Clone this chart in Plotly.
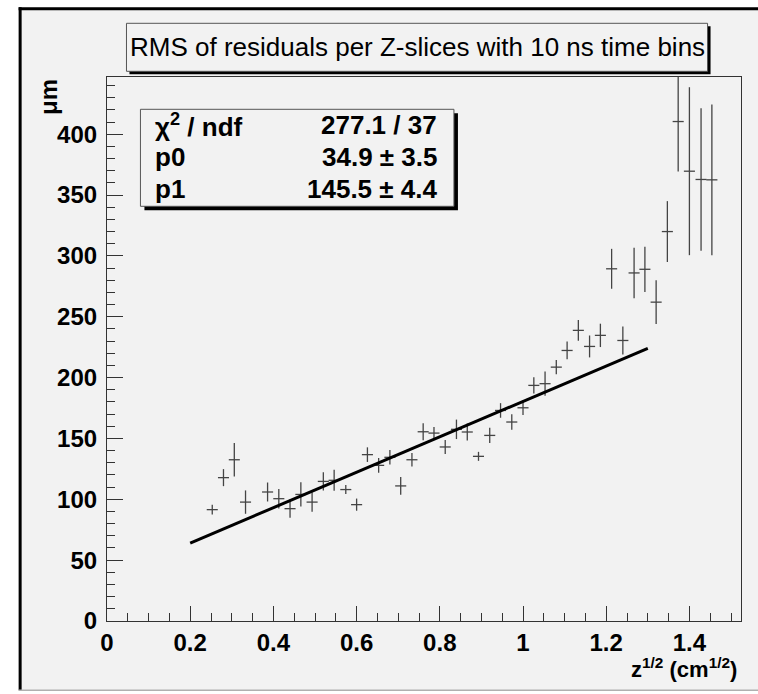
import plotly.graph_objects as go

# ---------------- data ----------------
z_sqrt = [0.253, 0.280, 0.306, 0.333, 0.386, 0.413, 0.440, 0.466, 0.493, 0.520,
          0.546, 0.574, 0.600, 0.626, 0.653, 0.680, 0.706, 0.733, 0.760, 0.786,
          0.813, 0.840, 0.866, 0.893, 0.920, 0.946, 0.973, 1.000, 1.026, 1.053,
          1.080, 1.106, 1.133, 1.160, 1.186, 1.213, 1.240, 1.267, 1.293, 1.320,
          1.347, 1.373, 1.400, 1.428, 1.454]
rms_um = [91.5, 117.8, 132.5, 97.7, 106.0, 100.5, 92.3, 104.0, 97.7, 114.7,
          115.6, 108.0, 95.6, 136.7, 127.9, 134.5, 111.0, 132.5, 155.5, 154.4,
          143.0, 157.5, 155.3, 135.3, 152.5, 173.0, 163.5, 175.2, 193.6, 195.0,
          208.6, 222.3, 238.8, 225.6, 234.7, 289.4, 230.5, 286.0, 289.0, 262.0,
          320.0, 410.4, 369.6, 362.8, 362.5]
rms_err = [4.0, 7.0, 13.7, 9.6, 7.8, 8.0, 7.5, 10.0, 8.0, 7.5,
           8.6, 3.7, 5.0, 6.0, 6.0, 6.0, 7.3, 5.5, 7.0, 5.0,
           5.7, 8.0, 7.0, 3.7, 6.3, 6.0, 6.4, 6.0, 6.6, 10.0,
           5.8, 7.3, 8.6, 9.0, 9.6, 16.4, 11.5, 20.7, 18.6, 18.0,
           25.0, 41.0, 69.0, 58.6, 62.0]
half_bin = 0.0133

fit_p0 = 34.9
fit_p1 = 145.5
fit_range = [0.2, 1.3]

stat_labels = ["\u03c7<sup>2</sup> / ndf", "p0", "p1"]
stat_values = ["277.1 / 37", "34.9 \u00b1 3.5", "145.5 \u00b1 4.4"]

title_text = "RMS of residuals per Z-slices with 10 ns time bins"
x_title = "z<sup>1/2</sup> (cm<sup>1/2</sup>)"
y_title = "\u03bcm"

x_ticks = [0, 0.2, 0.4, 0.6, 0.8, 1.0, 1.2, 1.4]
x_ticklabels = ["0", "0.2", "0.4", "0.6", "0.8", "1", "1.2", "1.4"]
y_ticks = [0, 50, 100, 150, 200, 250, 300, 350, 400]

# ---------------- geometry ----------------
W, H = 758, 694
L, R, T, B = 106.5, 741.5, 76.7, 620.7
PW, PH = R - L, B - T


def px(x):
    return (x - L) / PW


def py(y):
    return (B - y) / PH


FONT = "Liberation Sans, Arial, Helvetica, sans-serif"
BG = "#f2f2f2"

fig = go.Figure()

fig.add_trace(go.Scatter(
    x=z_sqrt, y=rms_um, mode="markers",
    marker=dict(size=0.1, color="#444"),
    error_y=dict(type="data", array=rms_err, visible=True, width=0,
                 thickness=1.3, color="#444"),
    error_x=dict(type="constant", value=half_bin, visible=True, width=0,
                 thickness=1.3, color="#444"),
    showlegend=False, hoverinfo="skip", cliponaxis=True,
))

fx = list(fit_range)
fy = [fit_p0 + fit_p1 * v for v in fx]
fig.add_trace(go.Scatter(x=fx, y=fy, mode="lines",
                         line=dict(color="black", width=3),
                         showlegend=False, hoverinfo="skip"))

shapes = []
shapes.append(dict(type="rect", xref="paper", yref="paper", layer="below",
                   x0=px(18), x1=px(760), y0=py(7), y1=py(690),
                   fillcolor=BG, line=dict(width=0)))
shapes.append(dict(type="line", xref="paper", yref="paper",
                   x0=px(19.5), x1=px(19.5), y0=py(7), y1=py(690),
                   line=dict(color="black", width=3)))
shapes.append(dict(type="line", xref="paper", yref="paper",
                   x0=px(18), x1=px(760), y0=py(8.5), y1=py(8.5),
                   line=dict(color="black", width=3)))
shapes.append(dict(type="line", xref="paper", yref="paper",
                   x0=px(18), x1=px(760), y0=py(690), y1=py(690),
                   line=dict(color="#b0b0b0", width=1.5)))


def box(x0, y0, x1, y1, sh):
    shapes.append(dict(type="rect", xref="paper", yref="paper",
                       x0=px(x0 + sh), x1=px(x1 + sh), y0=py(y0 + sh), y1=py(y1 + sh),
                       fillcolor="black", line=dict(width=0)))
    shapes.append(dict(type="rect", xref="paper", yref="paper",
                       x0=px(x0), x1=px(x1), y0=py(y0), y1=py(y1),
                       fillcolor=BG, line=dict(color="#555", width=1)))


box(126, 23, 708, 71, 3)
box(140, 109, 454, 206, 4)

ann = []
ann.append(dict(text=title_text, x=px(417), y=py(47), xref="paper", yref="paper",
                showarrow=False, xanchor="center", yanchor="middle",
                font=dict(family=FONT, size=26, color="black")))
row_y = [125, 157, 189]
for lab, val, ry in zip(stat_labels, stat_values, row_y):
    ann.append(dict(text=lab, x=px(153), y=py(ry), xref="paper", yref="paper",
                    showarrow=False, xanchor="left", yanchor="middle",
                    font=dict(family=FONT, size=26, color="black", weight="bold")))
    ann.append(dict(text=val, x=px(439), y=py(ry), xref="paper", yref="paper",
                    showarrow=False, xanchor="right", yanchor="middle",
                    font=dict(family=FONT, size=26, color="black", weight="bold")))
ann.append(dict(text=y_title, x=px(48), y=py(97), xref="paper", yref="paper",
                showarrow=False, xanchor="center", yanchor="middle", textangle=-90,
                font=dict(family=FONT, size=24, color="black", weight="bold")))
ann.append(dict(text=x_title, x=px(739), y=py(668), xref="paper", yref="paper",
                showarrow=False, xanchor="right", yanchor="middle",
                font=dict(family=FONT, size=22, color="black", weight="bold")))

fig.update_layout(
    width=W, height=H,
    margin=dict(l=L, r=W - R, t=T, b=H - B, pad=0),
    paper_bgcolor="white", plot_bgcolor=BG,
    shapes=shapes, annotations=ann,
    font=dict(family=FONT, color="black"),
)
fig.update_xaxes(range=[0, 1.524], tickvals=x_ticks, ticktext=x_ticklabels,
                 ticks="inside", ticklen=15, tickwidth=1, tickcolor="#333",
                 minor=dict(ticks="inside", ticklen=7.5, dtick=0.05, tickcolor="#333", tickwidth=1),
                 showgrid=False, zeroline=False, showline=True, linecolor="#333",
                 linewidth=1.2, mirror=True,
                 tickfont=dict(family=FONT, size=24, color="black", weight="bold"))
fig.update_yaxes(range=[0, 447], tickvals=y_ticks,
                 ticks="inside", ticklen=16, tickwidth=1, tickcolor="#333",
                 minor=dict(ticks="inside", ticklen=8, dtick=10, tickcolor="#333", tickwidth=1),
                 showgrid=False, zeroline=False, showline=True, linecolor="#333",
                 linewidth=1.2, mirror=True, ticklabelstandoff=4,
                 tickfont=dict(family=FONT, size=24, color="black", weight="bold"))

fig.write_html("out.html")
